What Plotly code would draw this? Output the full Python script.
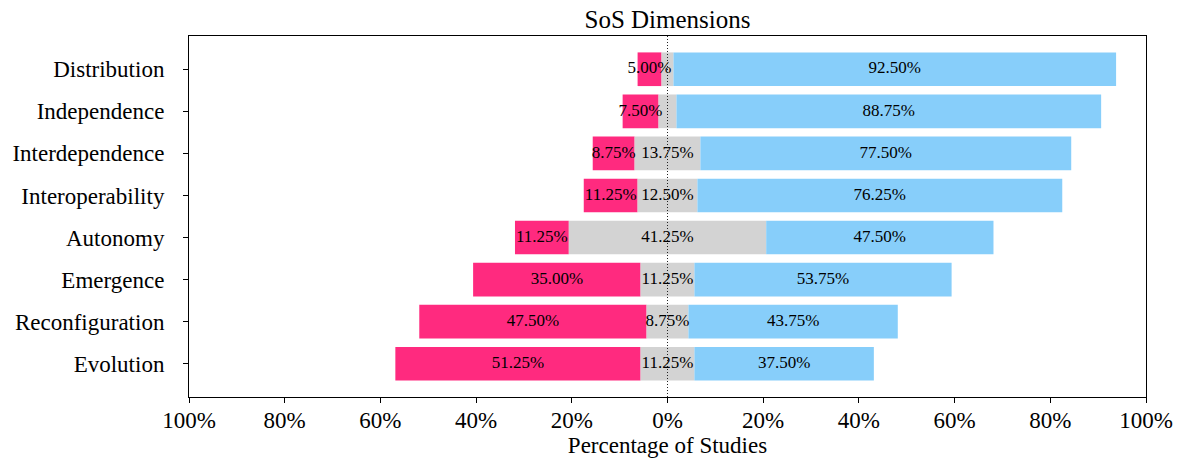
import plotly.graph_objects as go

categories = ["Distribution", "Independence", "Interdependence", "Interoperability",
              "Autonomy", "Emergence", "Reconfiguration", "Evolution"]
negative = [5.00, 7.50, 8.75, 11.25, 11.25, 35.00, 47.50, 51.25]
neutral = [2.50, 3.75, 13.75, 12.50, 41.25, 11.25, 8.75, 11.25]
positive = [92.50, 88.75, 77.50, 76.25, 47.50, 53.75, 43.75, 37.50]
tick_vals = [-100, -80, -60, -40, -20, 0, 20, 40, 60, 80, 100]
tick_text = ["100%", "80%", "60%", "40%", "20%", "0%", "20%", "40%", "60%", "80%", "100%"]

PINK = "#FF2A7F"
GRAY = "#D3D3D3"
BLUE = "#87CEFA"
FONT = "Liberation Serif"

neg_base = [-u / 2 - n for n, u in zip(negative, neutral)]
neu_base = [-u / 2 for u in neutral]
pos_base = [u / 2 for u in neutral]

fig = go.Figure()
fig.add_trace(go.Bar(y=categories, x=negative, base=neg_base, orientation="h",
                     marker=dict(color=PINK, line=dict(width=0)), width=0.8, name="neg"))
fig.add_trace(go.Bar(y=categories, x=neutral, base=neu_base, orientation="h",
                     marker=dict(color=GRAY, line=dict(width=0)), width=0.8, name="neu"))
fig.add_trace(go.Bar(y=categories, x=positive, base=pos_base, orientation="h",
                     marker=dict(color=BLUE, line=dict(width=0)), width=0.8, name="pos"))

LBL = dict(family=FONT, size=17, color="black")
neg_c = [b + n / 2 for b, n in zip(neg_base, negative)]
pos_c = [b + p / 2 for b, p in zip(pos_base, positive)]
fig.add_trace(go.Scatter(x=neg_c, y=categories, mode="text",
                         text=[f"{v:.2f}%" for v in negative], textfont=LBL, hoverinfo="skip"))
neu_show = [(c, v) for c, v in zip(categories, neutral) if v >= 5]
fig.add_trace(go.Scatter(x=[0] * len(neu_show), y=[c for c, _ in neu_show], mode="text",
                         text=[f"{v:.2f}%" for _, v in neu_show], textfont=LBL, hoverinfo="skip"))
fig.add_trace(go.Scatter(x=pos_c, y=categories, mode="text",
                         text=[f"{v:.2f}%" for v in positive], textfont=LBL, hoverinfo="skip"))

fig.add_shape(type="line", x0=0, x1=0, y0=0, y1=1, yref="paper", xref="x",
              line=dict(color="#222222", width=1, dash="1px,2px"), layer="above")

fig.update_layout(
    width=1177, height=461,
    margin=dict(l=189, r=31, t=36, b=64, autoexpand=False),
    barmode="overlay",
    showlegend=False,
    plot_bgcolor="white",
    paper_bgcolor="white",
    font=dict(family=FONT, size=23, color="black"),
    title=dict(text="SoS Dimensions", x=0.5, xanchor="center", xref="paper",
               y=1, yref="paper", yanchor="bottom", pad=dict(b=8),
               font=dict(family=FONT, size=25, color="black")),
)
fig.update_xaxes(range=[-100, 100], tickvals=tick_vals, ticktext=tick_text,
                 showgrid=False, zeroline=False, showline=True, linecolor="black",
                 linewidth=1, mirror=True, ticks="outside", ticklen=5, tickcolor="black",
                 automargin=False, ticklabelstandoff=-3,
                 title=dict(text="Percentage of Studies", font=dict(family=FONT, size=23), standoff=0),
                 tickfont=dict(family=FONT, size=23))
fig.update_yaxes(categoryorder="array", categoryarray=categories, range=[7.79, -0.79],
                 showgrid=False, zeroline=False, showline=True, linecolor="black",
                 linewidth=1, mirror=True, ticks="outside", ticklen=5, tickcolor="black",
                 automargin=False, ticklabelstandoff=14,
                 tickfont=dict(family=FONT, size=23))

fig.write_html("out.html", config={"displayModeBar": False},
               post_script="document.body.style.margin='0';document.body.style.overflow='hidden';")
